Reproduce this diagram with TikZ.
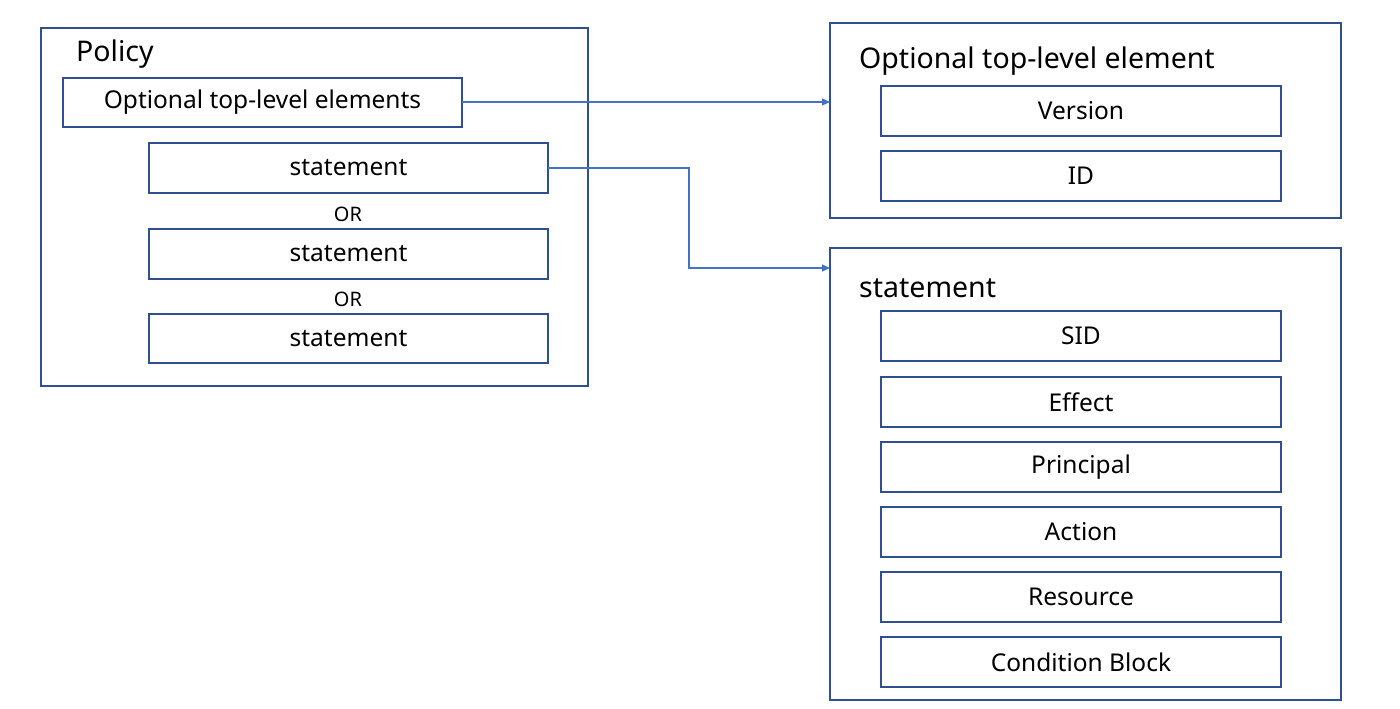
\documentclass[tikz,border=0pt]{standalone}
\usepackage{fontspec}
\setmainfont{Noto Sans}
\usetikzlibrary{arrows.meta}
\definecolor{bd}{HTML}{2F4F8F}
\definecolor{ar}{HTML}{4472C4}
\begin{document}
\begin{tikzpicture}[x=1pt,y=-1pt,
  frame/.style={draw=bd,line width=1.2pt},
  item/.style={draw=bd,line width=1.2pt},
  itxt/.style={font=\fontsize{24.5}{27}\selectfont},
  lbl/.style={anchor=west,inner sep=0pt,font=\fontsize{28.5}{31}\selectfont},
  ortxt/.style={font=\fontsize{20}{22}\selectfont},
  conn/.style={draw=ar,line width=1.1pt,-{Triangle[length=8pt,width=7pt]}}]
\useasboundingbox[fill=white] (0,0) rectangle (1400,709);
\newcommand\bx[6]{\draw[item] (#2,#3) rectangle (#4,#5); \node[itxt] (#1) at ({(#2+#4)/2},{(#3+#5)/2}) {#6};}
\draw[frame] (41,28) rectangle (588,386);
\node[lbl] (pol) at (76,54) {Policy};
\bx{opt}{63}{78}{462}{127}{Optional top-level elements}
\bx{s1}{149}{143}{548}{193}{statement}
\node[ortxt] (or1) at (348,214) {OR};
\bx{s2}{149}{229}{548}{279}{statement}
\node[ortxt] (or2) at (348,299) {OR};
\bx{s3}{149}{314}{548}{363}{statement}
\draw[frame] (830,23) rectangle (1341,218);
\node[lbl] (otl) at (859,61) {Optional top-level element};
\bx{ver}{881}{86}{1281}{136}{Version}
\bx{id}{881}{151}{1281}{201}{ID}
\draw[frame] (830,248) rectangle (1341,700);
\node[lbl] (stl) at (859,288) {statement};
\bx{sid}{881}{311}{1281}{361}{SID}
\bx{eff}{881}{377}{1281}{427}{Effect}
\bx{pri}{881}{442}{1281}{492}{Principal}
\bx{act}{881}{507}{1281}{557}{Action}
\bx{res}{881}{572}{1281}{622}{Resource}
\bx{cond}{881}{637}{1281}{687}{Condition Block}
\coordinate (a1s) at (462,102); \coordinate (a1e) at (830,102);
\coordinate (a2s) at (548,168); \coordinate (a2e) at (830,268);
\draw[conn] (a1s) -- (a1e);
\draw[conn] (a2s) -- (689,168) -- (689,268) -- (a2e);
\end{tikzpicture}
\end{document}
